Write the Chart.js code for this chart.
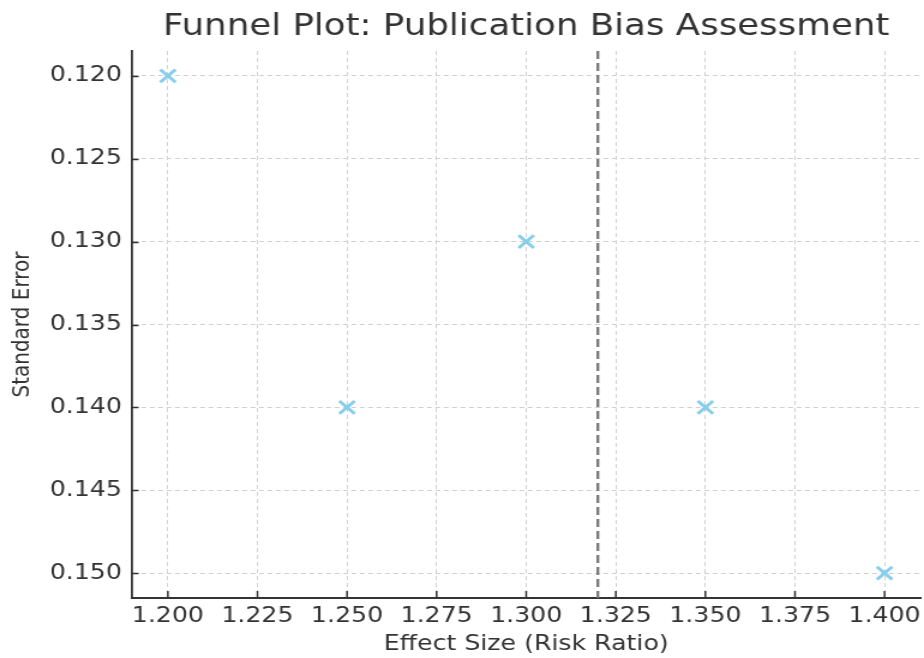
<!DOCTYPE html>
<html>
<head>
<meta charset="utf-8">
<script src="https://cdn.jsdelivr.net/npm/chart.js@4.4.0/dist/chart.umd.min.js"></script>
<style>
  html, body { margin: 0; padding: 0; background: #fff; overflow: hidden; }
  /* the reference is a horizontally stretched render: draw at 770 wide, stretch to 924 */
  #wrap { width: 770px; height: 658px; transform: scaleX(1.2); transform-origin: 0 0; }
</style>
</head>
<body>
<div id="wrap"><canvas id="chart"></canvas></div>
<script>
// ── Data ──
const effectSizes = [1.20, 1.25, 1.30, 1.35, 1.40];
const standardErrors = [0.120, 0.140, 0.130, 0.140, 0.150];
const meanEffect = 1.32;
const xTicks = [1.200, 1.225, 1.250, 1.275, 1.300, 1.325, 1.350, 1.375, 1.400];
const yTicks = [0.120, 0.125, 0.130, 0.135, 0.140, 0.145, 0.150];
const xRange = [1.19, 1.41];
const yRange = [0.1185, 0.1515];

const FONT = "'DejaVu Sans', sans-serif";
const INK = '#333';

// inward tick marks, matplotlib style
const inwardTicks = {
  id: 'inwardTicks',
  afterDatasetsDraw(chart) {
    const { ctx, chartArea: a, scales: { x, y } } = chart;
    ctx.save();
    ctx.strokeStyle = INK;
    ctx.lineWidth = 1.5;
    ctx.beginPath();
    for (const v of xTicks) {
      const px = x.getPixelForValue(v);
      ctx.moveTo(px, a.bottom);
      ctx.lineTo(px, a.bottom - 7);
    }
    for (const v of yTicks) {
      const py = Math.round(y.getPixelForValue(v)) + 0.5;
      ctx.moveTo(a.left, py);
      ctx.lineTo(a.left + 5.5, py);
    }
    ctx.stroke();
    ctx.restore();
  },
};

// centre the title over the plot area, not the whole canvas
const titleOverAxes = {
  id: 'titleOverAxes',
  afterLayout(chart) {
    const t = chart.titleBlock;
    if (!t) return;
    t.left = chart.chartArea.left;
    t.right = chart.chartArea.right;
  },
};

new Chart(document.getElementById('chart'), {
  type: 'scatter',
  data: {
    datasets: [
      {
        label: 'Studies',
        data: effectSizes.map((v, i) => ({ x: v, y: standardErrors[i] })),
        pointStyle: 'crossRot',
        pointRadius: 9,
        pointHoverRadius: 9,
        borderWidth: 3,
        borderColor: '#87ceeb',
        backgroundColor: '#87ceeb',
        order: 1,
      },
      {
        label: 'Mean effect',
        type: 'line',
        data: [{ x: meanEffect, y: yRange[0] }, { x: meanEffect, y: yRange[1] }],
        borderColor: '#777',
        borderWidth: 2.3,
        borderDash: [8, 4],
        pointRadius: 0,
        order: 2,
      },
    ],
  },
  options: {
    responsive: true,
    maintainAspectRatio: false,
    animation: false,
    layout: { autoPadding: false, padding: { left: 0, right: 3, top: 0, bottom: 0 } },
    plugins: {
      legend: { display: false },
      tooltip: { enabled: false },
      title: {
        display: true,
        text: 'Funnel Plot: Publication Bias Assessment',
        color: INK,
        font: { family: FONT, size: 29.7, weight: 'normal' },
        padding: { top: 9, bottom: 6.4 },
      },
    },
    scales: {
      x: {
        type: 'linear',
        min: xRange[0],
        max: xRange[1],
        afterBuildTicks: s => { s.ticks = xTicks.map(v => ({ value: v })); },
        afterFit: s => { s.height = 60; s.paddingLeft = 0; s.paddingRight = 0; },
        ticks: {
          color: INK,
          font: { family: FONT, size: 21 },
          padding: 6,
          maxRotation: 0,
          callback: v => v.toFixed(3),
        },
        grid: { color: '#d0d0d0', lineWidth: 1, tickLength: 0 },
        border: { color: INK, width: 2, dash: [4, 3] },
        title: {
          display: true,
          text: 'Effect Size (Risk Ratio)',
          color: INK,
          font: { family: FONT, size: 21 },
          padding: { top: 0, bottom: 1 },
        },
      },
      y: {
        type: 'linear',
        reverse: true,
        min: yRange[0],
        max: yRange[1],
        afterBuildTicks: s => { s.ticks = yTicks.map(v => ({ value: v })); },
        afterFit: s => { s.width = 110; s.paddingTop = 0; s.paddingBottom = 0; },
        ticks: {
          color: INK,
          font: { family: FONT, size: 21 },
          padding: 8.5,
          callback: v => v.toFixed(3),
        },
        grid: { color: '#d0d0d0', lineWidth: 1, tickLength: 0 },
        border: { color: INK, width: 1.8, dash: [4, 3] },
        title: {
          display: true,
          text: 'Standard Error',
          color: INK,
          font: { family: FONT, size: 20 },
          padding: { top: 7, bottom: 0 },
        },
      },
    },
  },
  plugins: [inwardTicks, titleOverAxes],
});
</script>
</body>
</html>
